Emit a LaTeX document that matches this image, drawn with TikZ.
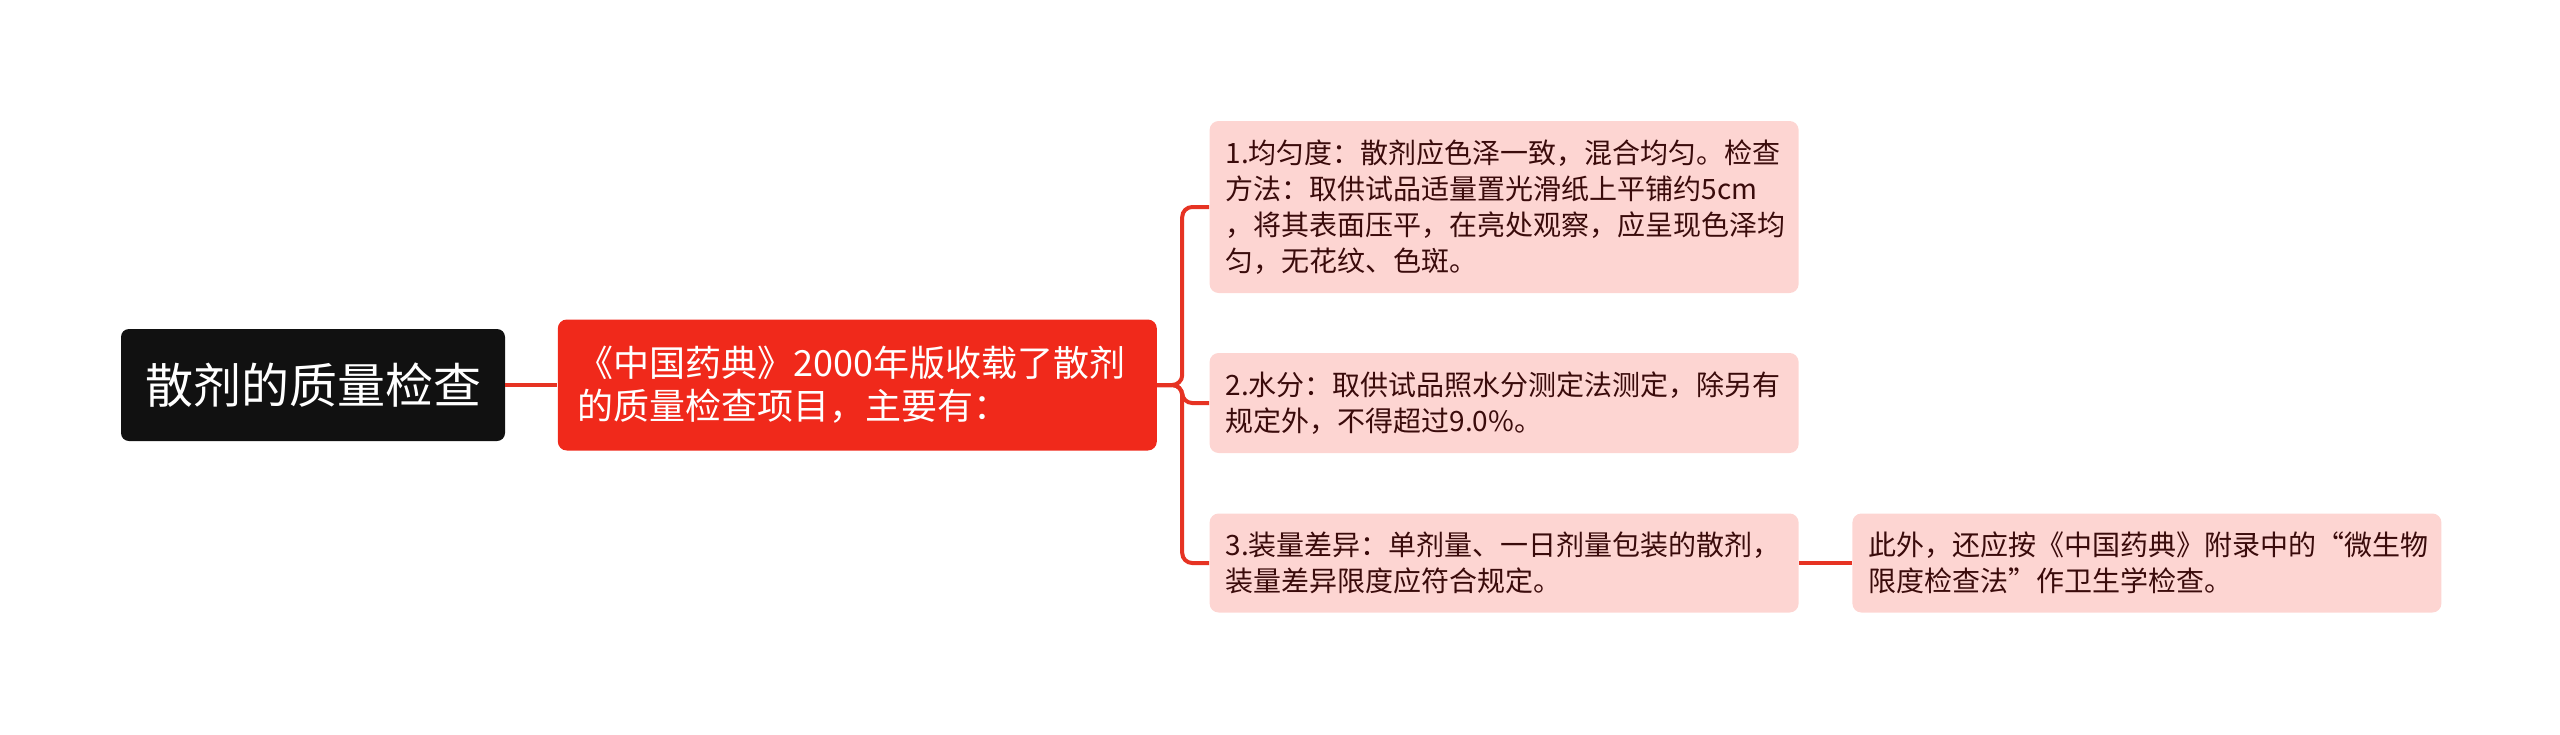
\documentclass[tikz,border=0pt]{standalone}
\usepackage{fontspec}
\setmainfont{Noto Sans CJK SC}
\usepackage{xcolor}
\usepackage{tikz}
\usetikzlibrary{positioning}
\definecolor{rootblack}{HTML}{111111}
\definecolor{topicred}{HTML}{F0291B}
\definecolor{leafpink}{HTML}{FDD5D2}
\definecolor{leaftext}{HTML}{3A0B0B}
\definecolor{branchred}{HTML}{E63323}
\tikzstyle{rootbox} = [rectangle, rounded corners=4pt, minimum width=192pt, minimum height=56pt, fill=rootblack, text=white, font=\fontsize{24}{28}\selectfont]
\tikzstyle{topicbox} = [rectangle, rounded corners=4.5pt, text width=280pt, inner xsep=9.75pt, minimum height=65.5pt, align=left, fill=topicred, text=white, font=\fontsize{18}{21.5}\selectfont]
\tikzstyle{leafbox} = [rectangle, rounded corners=4.5pt, text width=278.5pt, inner xsep=8pt, align=left, fill=leafpink, text=leaftext, font=\fontsize{14}{18}\selectfont]
\tikzstyle{branch} = [draw=branchred, line width=2pt, rounded corners=5pt]

\begin{document}
\begin{tikzpicture}
    \useasboundingbox (0,0) rectangle (1280pt,-367pt);
    \node[rootbox] (root) at (156.5pt,-192.5pt) {散剂的质量检查};
    \node[topicbox, right=26pt of root] (intro) {《中国药典》2000年版收载了散剂\\的质量检查项目，主要有：};
    \node[leafbox, minimum height=86pt, right=26pt of intro, yshift=89pt] (even) {1.均匀度：散剂应色泽一致，混合均匀。检查\\方法：取供试品适量置光滑纸上平铺约5cm\\，将其表面压平，在亮处观察，应呈现色泽均\\匀，无花纹、色斑。};
    \node[leafbox, minimum height=50pt, right=26pt of intro, yshift=-9pt] (water) {2.水分：取供试品照水分测定法测定，除另有\\规定外，不得超过9.0\%。};
    \node[leafbox, minimum height=49.5pt, right=26pt of intro, yshift=-89pt] (weight) {3.装量差异：单剂量、一日剂量包装的散剂，\\装量差异限度应符合规定。};
    \node[leafbox, minimum height=49.5pt, right=26.5pt of weight] (micro) {此外，还应按《中国药典》附录中的“微生物\\限度检查法”作卫生学检查。};

    \draw[branch] (root) -- (intro);
    \draw[branch] (intro.east) -- ++(12.5pt,0) |- (even.west);
    \draw[branch] (intro.east) -- ++(12.5pt,0) |- (water.west);
    \draw[branch] (intro.east) -- ++(12.5pt,0) |- (weight.west);
    \draw[branch] (weight) -- (micro);
\end{tikzpicture}
\end{document}
